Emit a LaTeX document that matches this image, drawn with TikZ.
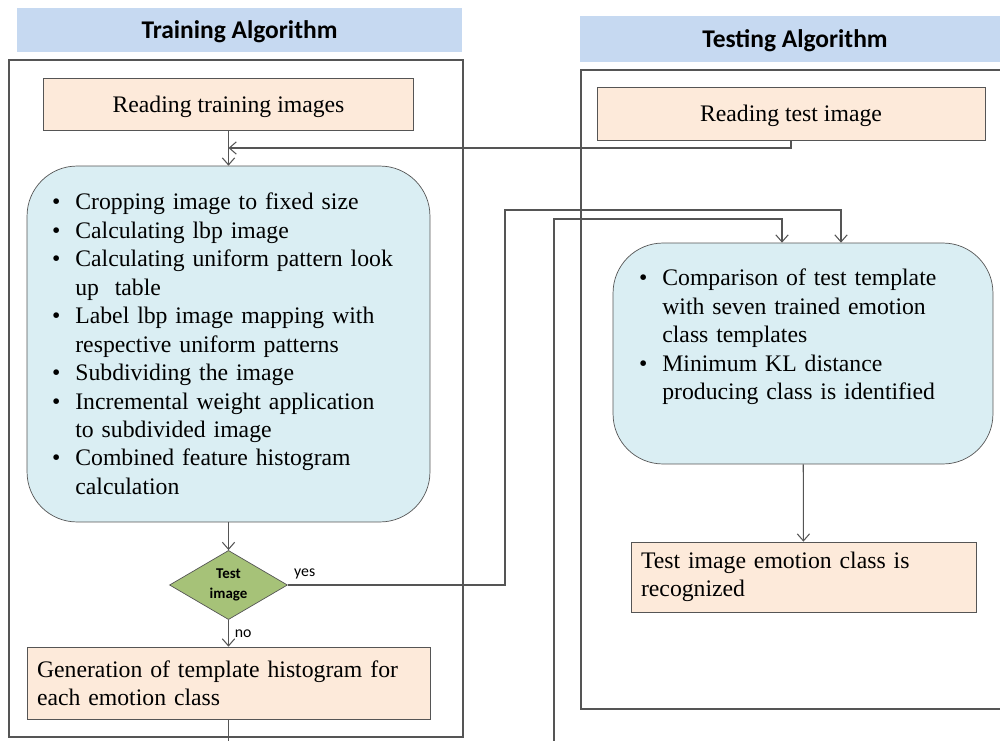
\documentclass[tikz,border=0pt]{standalone}
\usepackage{fontspec}
\setmainfont{Liberation Serif}
\newfontfamily\calibri{Carlito}
\usetikzlibrary{positioning,shapes.geometric,arrows.meta}

\definecolor{BandBlue}{RGB}{198,217,241}
\definecolor{Peach}{RGB}{253,234,218}
\definecolor{PaleCyan}{RGB}{218,238,243}
\definecolor{Olive}{RGB}{166,194,120}
\definecolor{Frame}{RGB}{85,85,85}

% tight first-level lists inside the panels
\makeatletter
\def\@listI{\leftmargin\leftmargini \parsep\z@ \topsep\z@ \itemsep\z@}
\let\@listi\@listI
\makeatother
\setlength{\partopsep}{0pt}
\setlength{\leftmargini}{0.5cm}
\setlength{\labelsep}{0.3cm}

\begin{document}
\begin{tikzpicture}[x=0.02cm, y=-0.02cm]
   \tikzset{
     band/.style     = { fill       = BandBlue,
                         text depth = 0pt,
                         font       = \calibri\bfseries\fontsize{14.5}{17}\selectfont },
     frame/.style    = { draw = Frame, line width = 0.6pt },
     stepbox/.style  = { draw      = Frame,
                         fill      = Peach,
                         font      = \fontsize{13.5}{16.2}\selectfont },
     panel/.style    = { draw            = Frame,
                         fill            = PaleCyan,
                         rounded corners = 1cm },
     steps/.style    = { anchor     = north west,
                         inner sep  = 0pt,
                         align      = left,
                         font       = \fontsize{13.5}{16.2}\selectfont },
     decision/.style = { diamond,
                         draw           = Frame,
                         fill           = Olive,
                         inner sep      = 0pt,
                         minimum width  = 2.36cm,
                         minimum height = 1.36cm,
                         align          = center,
                         font           = \calibri\bfseries\fontsize{8.5}{11}\selectfont },
     flow/.style     = { draw = Frame, line width = 0.6pt,
                         -{Straight Barb[length=4pt,width=7pt]} },
     tag/.style      = { font = \calibri\fontsize{9}{10}\selectfont },
  }

  \useasboundingbox (0,0) rectangle (1000,740);

  % headings and frames
  \node [band, minimum width = 8.9cm, minimum height = 0.88cm] (train title) at (239.5,30)
      {Training Algorithm};
  \node [band, minimum width = 8.6cm, minimum height = 0.92cm] (test title) at (795,39)
      {Testing Algorithm};

  \draw [frame] (9,60) rectangle (463,737);
  \draw [frame] (581,70) rectangle (1010,709);

  % training side
  \node [stepbox, text depth = 0pt, minimum width = 7.4cm, minimum height = 1.04cm]
      (read train) at (228.5,104) {Reading training images};

  \node [panel, minimum width = 8.06cm, minimum height = 7.12cm] (features) at (228.5,344) {};
  \node [steps, text width = 7.3cm] (feature list) at (50,181)
      {
          \begin{itemize}
              \item Cropping image to fixed size
              \item Calculating lbp image
              \item Calculating uniform pattern look\\up\ \ table
              \item Label lbp image mapping with\\respective uniform patterns
              \item Subdividing the image
              \item Incremental weight application\\to subdivided image
              \item Combined feature histogram\\calculation
          \end{itemize}
      };

  \node [decision] (test) at (228.5,585) {Test\\image};

  \node [stepbox, text width = 7.66cm, inner xsep = 0.2cm, minimum height = 1.44cm,
         align = left] (template) at (228.5,683)
      {Generation of template histogram for\\each emotion class};

  % testing side
  \node [stepbox, text depth = 0pt, minimum width = 7.76cm, minimum height = 1.06cm]
      (read test) at (791,113.5) {Reading test image};

  \node [panel, minimum width = 7.6cm, minimum height = 4.42cm] (compare) at (803,353.5) {};
  \node [steps, text width = 6.9cm] (compare list) at (637,257)
      {
          \begin{itemize}
              \item Comparison of test template\\with seven trained emotion\\class templates
              \item Minimum KL distance\\producing class is identified
          \end{itemize}
      };

  \node [stepbox, text width = 6.5cm, inner xsep = 0.2cm, minimum height = 1.4cm,
         align = left] (result) at (803.5,577)
      {Test image emotion class is\\recognized};

  % connectors
  \coordinate (merge)     at (228.5,148);
  \coordinate (yes turn)  at (505,210);
  \coordinate (loop turn) at (554,219);

  \draw [flow] (read train) -- (features);
  \draw [flow] (read test.south) |- (merge);
  \draw [flow] (features) -- (test);
  \draw [flow] (test) -- node [tag, right] {no} (template);
  \draw [flow] (test.east) node [tag, above right] {yes}
      -| (yes turn) -| ([xshift=0.76cm]compare.north);
  \draw [flow] (template.south) -- ++(0,40) -| (loop turn)
      -| ([xshift=-0.42cm]compare.north);
  \draw [flow] (compare) -- (result);

\end{tikzpicture}
\end{document}
